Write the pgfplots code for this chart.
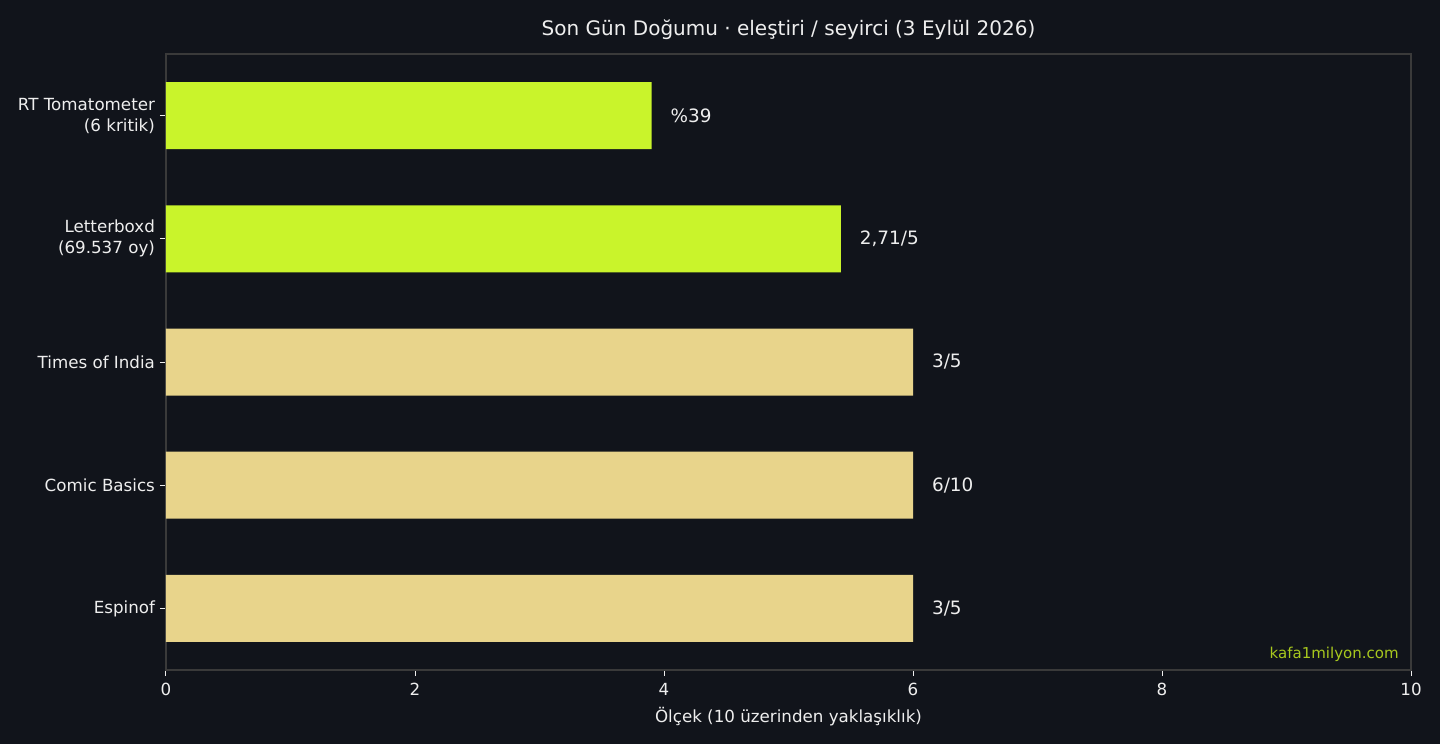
\documentclass[border=0pt]{standalone}
\usepackage{pgfplots}
\pgfplotsset{compat=1.18}
\usepackage{fontspec}
\setmainfont{DejaVu Sans}
\definecolor{bg}{HTML}{11141B}
\definecolor{lime}{HTML}{C9F42B}
\definecolor{tan}{HTML}{E8D48B}
\definecolor{frame}{HTML}{3A3A3A}
\definecolor{txt}{HTML}{EEEEEE}
\definecolor{wm}{HTML}{A8C81E}
\begin{document}
\begin{tikzpicture}
\fill[bg] (-83pt,-37pt) rectangle (637pt,335pt);
\begin{axis}[
  at={(0,0)}, anchor=south west,
  scale only axis, width=622.5pt, height=308pt,
  xbar, bar width=33.5pt, bar shift=0pt,
  xmin=0, xmax=10, ymin=-0.5, ymax=4.5, y dir=reverse,
  ytick={0,1,2,3,4},
  yticklabels={{RT Tomatometer\\(6 kritik)},{Letterboxd\\(69.537 oy)},{Times of India},{Comic Basics},{Espinof}},
  yticklabel style={align=right, font=\fontsize{8.35}{10.5}\selectfont, text=txt, xshift=1pt},
  xtick={0,2,4,6,8,10},
  xticklabel style={font=\fontsize{8.35}{9.5}\selectfont, text=txt},
  /pgf/number format/assume math mode=true,
  tick align=outside, tick pos=left,
  major tick length=3pt,
  every tick/.style={draw=txt, line width=0.5pt},
  axis line style={draw=frame, line width=0.6pt},
  xlabel={Ölçek (10 üzerinden yaklaşıklık)},
  xlabel style={font=\fontsize{8.35}{9.5}\selectfont, text=txt, yshift=1pt},
  title={Son Gün Doğumu · eleştiri / seyirci (3 Eylül 2026)},
  title style={font=\fontsize{10}{12}\selectfont, text=txt, yshift=-2.5pt},
  clip=false,
  nodes near coords,
  point meta=explicit symbolic,
  nodes near coords style={font=\fontsize{9.2}{10}\selectfont, text=txt, anchor=west, xshift=6pt},
]
\addplot[draw=none, fill=lime] coordinates {(3.9,0) [\%39] (5.42,1) [{2,71/5}]};
\addplot[draw=none, fill=tan] coordinates {(6,2) [3/5] (6,3) [6/10] (6,4) [3/5]};
\node[anchor=base east, inner sep=0pt, text=wm, font=\fontsize{7.5}{9}\selectfont] at ([xshift=-6pt,yshift=6pt]rel axis cs:1,0) {kafa1milyon.com};
\end{axis}
\end{tikzpicture}
\end{document}
